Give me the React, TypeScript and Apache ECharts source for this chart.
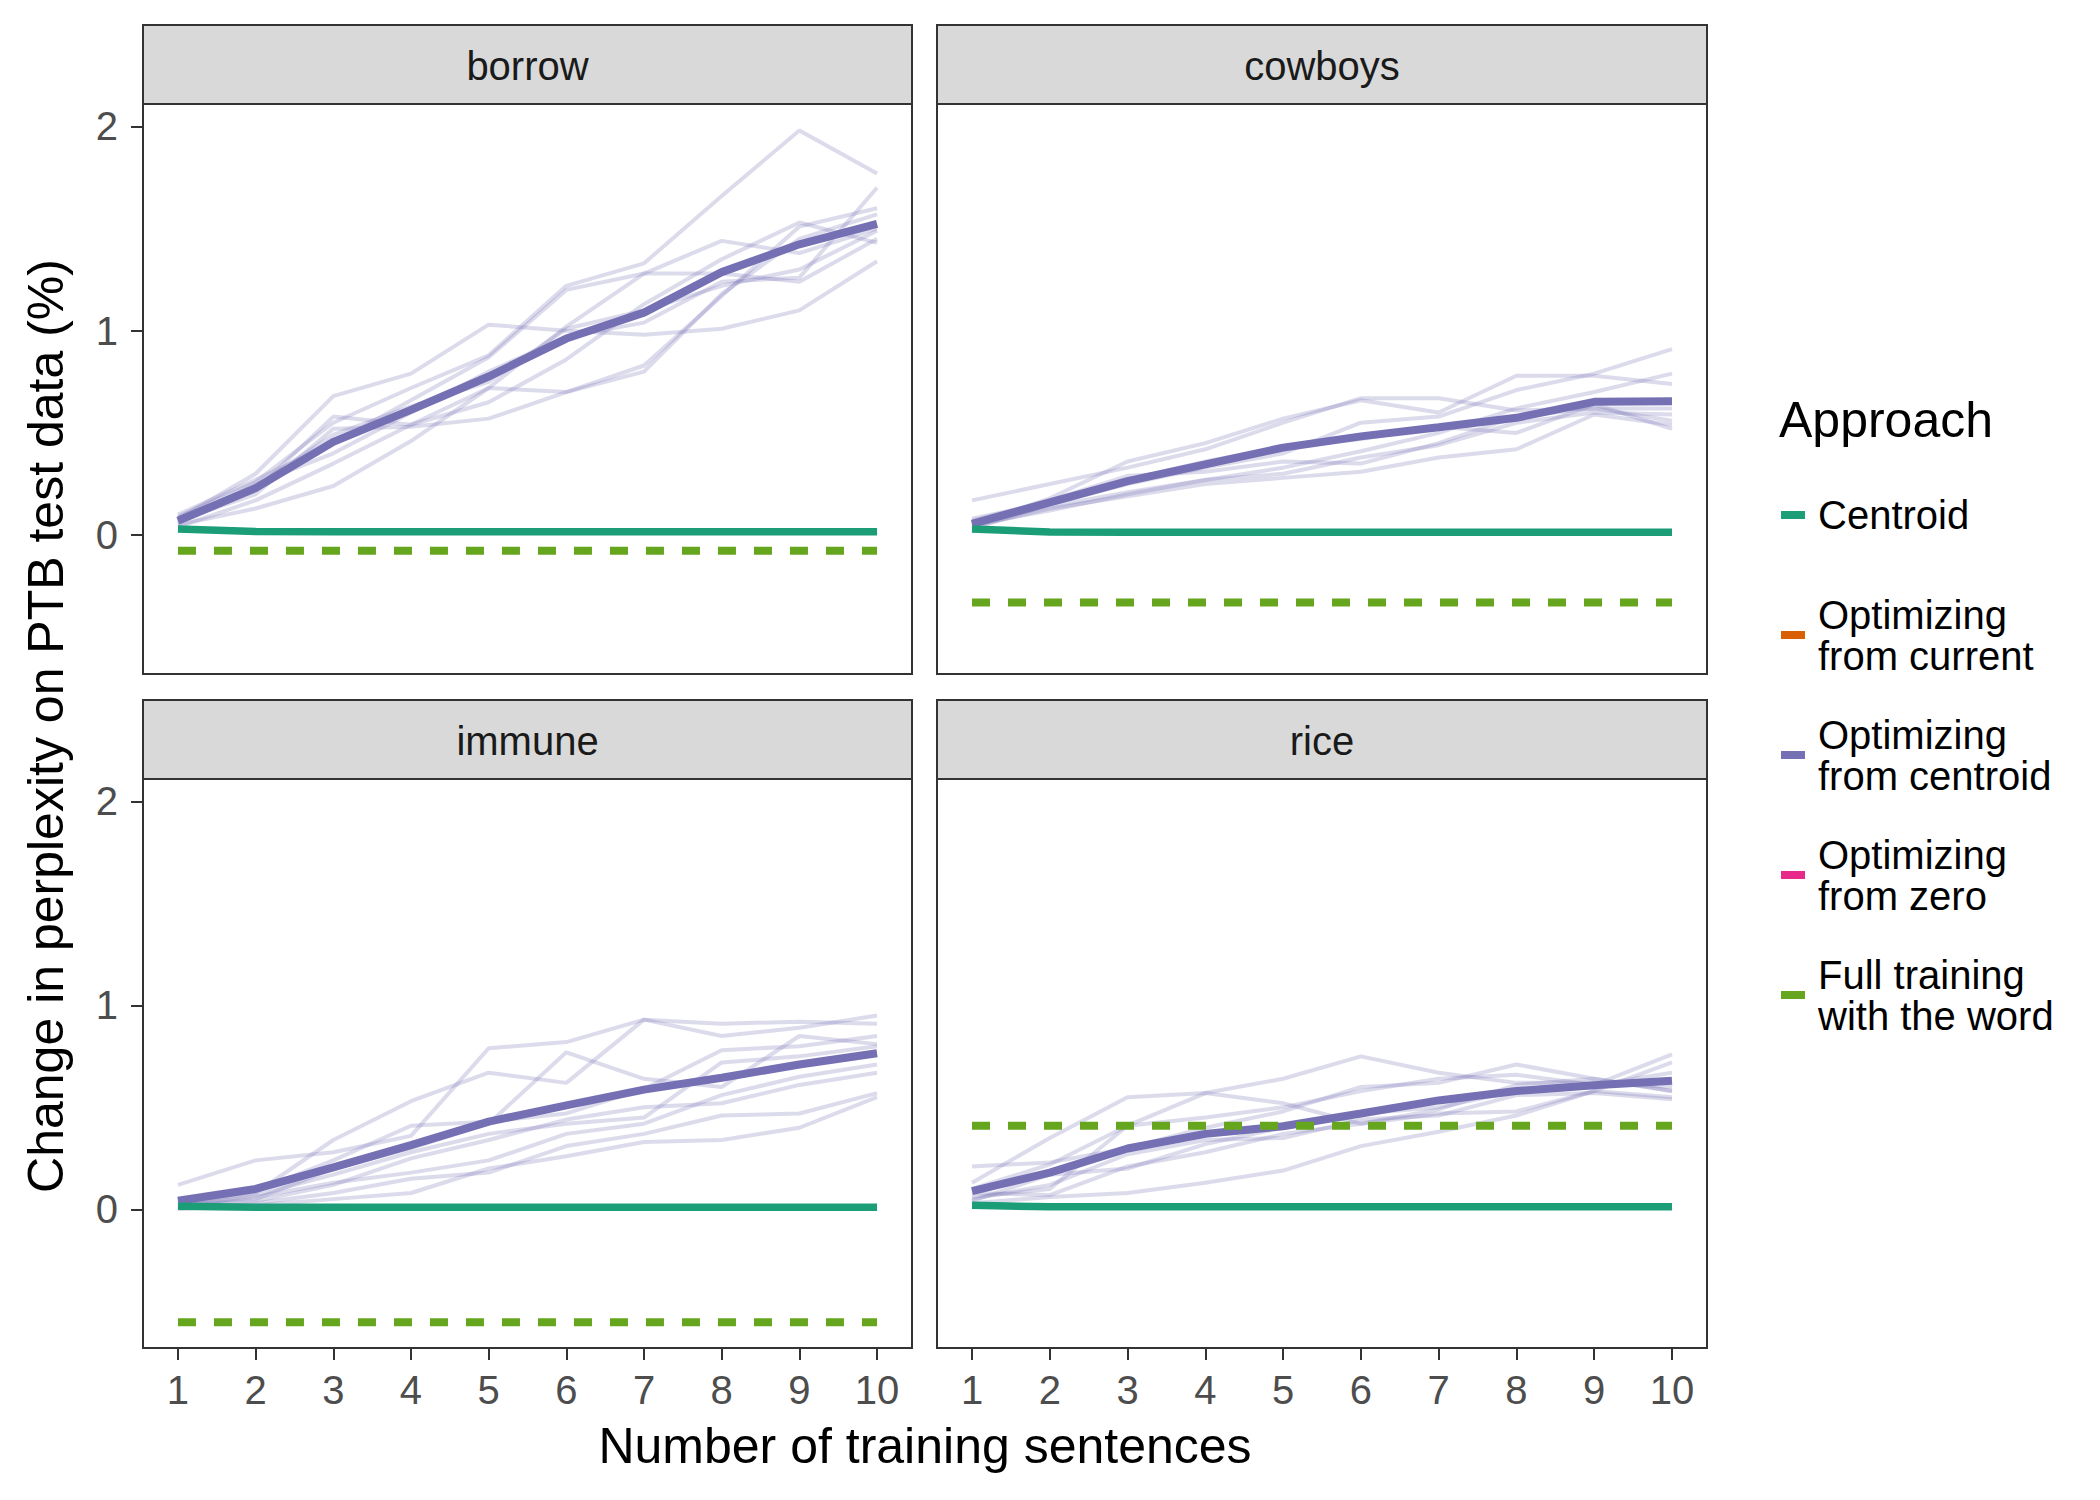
import React, { useEffect, useRef } from 'react';
import * as echarts from 'echarts';

// ---------- data ----------
const SENTENCES = [1, 2, 3, 4, 5, 6, 7, 8, 9, 10];
const X_TICKS = [1, 2, 3, 4, 5, 6, 7, 8, 9, 10];
const Y_TICKS = [0, 1, 2];
const FACETS = ['borrow', 'cowboys', 'immune', 'rice'];

const APPROACHES = [
  'Centroid',
  'Optimizing from current',
  'Optimizing from centroid',
  'Optimizing from zero',
  'Full training with the word',
];
const LEGEND_LINES = [
  'Centroid',
  'Optimizing\nfrom current',
  'Optimizing\nfrom centroid',
  'Optimizing\nfrom zero',
  'Full training\nwith the word',
];
const APPROACH_COLORS = ['#1B9E77', '#D95F02', '#7570B3', '#E7298A', '#66A61E'];

// borrow
const BORROW_MEAN = [0.07, 0.23, 0.456, 0.613, 0.776, 0.962, 1.089, 1.287, 1.423, 1.523];
const BORROW_CENTROID = [0.03, 0.017, 0.016, 0.016, 0.016, 0.016, 0.016, 0.016, 0.016, 0.016];
const BORROW_FULL = [-0.077, -0.077, -0.077, -0.077, -0.077, -0.077, -0.077, -0.077, -0.077, -0.077];
const BORROW_RUNS = [
  [0.09, 0.26, 0.55, 0.72, 0.88, 1.22, 1.33, 1.66, 1.98, 1.77],
  [0.08, 0.3, 0.68, 0.79, 1.03, 1.0, 0.98, 1.01, 1.1, 1.34],
  [0.06, 0.22, 0.58, 0.54, 0.72, 0.7, 0.83, 1.17, 1.51, 1.6],
  [0.05, 0.13, 0.24, 0.46, 0.72, 1.02, 1.28, 1.28, 1.24, 1.45],
  [0.07, 0.2, 0.52, 0.53, 0.57, 0.7, 0.8, 1.18, 1.45, 1.57],
  [0.1, 0.27, 0.45, 0.66, 0.87, 1.2, 1.28, 1.44, 1.38, 1.5],
  [0.04, 0.17, 0.35, 0.54, 0.65, 0.86, 1.13, 1.35, 1.53, 1.43],
  [0.06, 0.25, 0.4, 0.6, 0.8, 0.97, 1.04, 1.24, 1.26, 1.7],
  [0.08, 0.24, 0.49, 0.63, 0.75, 1.01, 1.1, 1.22, 1.3, 1.49],
];

// cowboys
const COWBOYS_MEAN = [0.055, 0.16, 0.264, 0.346, 0.428, 0.483, 0.528, 0.574, 0.652, 0.655];
const COWBOYS_CENTROID = [0.03, 0.015, 0.014, 0.014, 0.014, 0.014, 0.014, 0.014, 0.014, 0.014];
const COWBOYS_FULL = [-0.33, -0.33, -0.33, -0.33, -0.33, -0.33, -0.33, -0.33, -0.33, -0.33];
const COWBOYS_RUNS = [
  [0.17, 0.25, 0.33, 0.42, 0.55, 0.67, 0.67, 0.61, 0.62, 0.56],
  [0.05, 0.18, 0.36, 0.45, 0.57, 0.66, 0.6, 0.78, 0.78, 0.74],
  [0.03, 0.15, 0.25, 0.33, 0.4, 0.55, 0.58, 0.71, 0.79, 0.91],
  [0.06, 0.14, 0.21, 0.27, 0.33, 0.41, 0.5, 0.62, 0.7, 0.79],
  [0.04, 0.13, 0.19, 0.25, 0.28, 0.31, 0.38, 0.42, 0.59, 0.54],
  [0.08, 0.16, 0.27, 0.36, 0.43, 0.47, 0.53, 0.5, 0.64, 0.52],
  [0.05, 0.12, 0.2, 0.27, 0.3, 0.38, 0.44, 0.55, 0.6, 0.59],
  [0.07, 0.17, 0.29, 0.31, 0.36, 0.35, 0.45, 0.58, 0.62, 0.62],
];

// immune
const IMMUNE_MEAN = [0.042, 0.1, 0.206, 0.315, 0.43, 0.51, 0.587, 0.645, 0.71, 0.765];
const IMMUNE_CENTROID = [0.015, 0.01, 0.01, 0.01, 0.01, 0.01, 0.01, 0.01, 0.01, 0.01];
const IMMUNE_FULL = [-0.554, -0.554, -0.554, -0.554, -0.554, -0.554, -0.554, -0.554, -0.554, -0.554];
const IMMUNE_RUNS = [
  [0.12, 0.24, 0.28, 0.36, 0.79, 0.82, 0.93, 0.91, 0.92, 0.91],
  [0.03, 0.08, 0.34, 0.53, 0.67, 0.62, 0.93, 0.85, 0.89, 0.95],
  [0.02, 0.05, 0.2, 0.3, 0.42, 0.77, 0.64, 0.6, 0.85, 0.81],
  [0.03, 0.09, 0.24, 0.41, 0.43, 0.47, 0.59, 0.78, 0.8, 0.85],
  [0.01, 0.07, 0.17, 0.28, 0.37, 0.42, 0.45, 0.72, 0.75, 0.8],
  [0.02, 0.06, 0.13, 0.18, 0.24, 0.37, 0.42, 0.56, 0.65, 0.71],
  [0.0, 0.03, 0.08, 0.15, 0.18, 0.31, 0.37, 0.46, 0.47, 0.57],
  [0.01, 0.02, 0.05, 0.08, 0.2, 0.26, 0.33, 0.34, 0.4, 0.55],
  [0.02, 0.04, 0.12, 0.25, 0.34, 0.44, 0.5, 0.52, 0.61, 0.67],
];

// rice
const RICE_MEAN = [0.089, 0.18, 0.298, 0.37, 0.407, 0.47, 0.534, 0.58, 0.608, 0.63];
const RICE_CENTROID = [0.02, 0.012, 0.012, 0.012, 0.012, 0.012, 0.012, 0.012, 0.012, 0.012];
const RICE_FULL = [0.41, 0.41, 0.41, 0.41, 0.41, 0.41, 0.41, 0.41, 0.41, 0.41];
const RICE_RUNS = [
  [0.13, 0.35, 0.55, 0.57, 0.52, 0.42, 0.49, 0.61, 0.64, 0.58],
  [0.1, 0.22, 0.41, 0.57, 0.64, 0.75, 0.67, 0.62, 0.62, 0.6],
  [0.21, 0.23, 0.3, 0.4, 0.48, 0.6, 0.62, 0.71, 0.64, 0.58],
  [0.06, 0.1, 0.41, 0.45, 0.5, 0.58, 0.64, 0.66, 0.61, 0.67],
  [0.04, 0.17, 0.2, 0.32, 0.4, 0.47, 0.5, 0.58, 0.61, 0.76],
  [0.08, 0.07, 0.21, 0.28, 0.37, 0.42, 0.47, 0.48, 0.58, 0.72],
  [0.03, 0.06, 0.08, 0.13, 0.19, 0.31, 0.38, 0.46, 0.58, 0.55],
  [0.05, 0.12, 0.27, 0.34, 0.35, 0.44, 0.46, 0.56, 0.57, 0.54],
];

const MEANS = [BORROW_MEAN, COWBOYS_MEAN, IMMUNE_MEAN, RICE_MEAN];
const CENTROIDS = [BORROW_CENTROID, COWBOYS_CENTROID, IMMUNE_CENTROID, RICE_CENTROID];
const FULLS = [BORROW_FULL, COWBOYS_FULL, IMMUNE_FULL, RICE_FULL];
const RUNS = [BORROW_RUNS, COWBOYS_RUNS, IMMUNE_RUNS, RICE_RUNS];

// ---------- layout ----------
const FONT = 'Liberation Sans';
const GRIDS = [
  { left: 143, top: 104, width: 769, height: 570 },
  { left: 937, top: 104, width: 770, height: 570 },
  { left: 143, top: 779, width: 769, height: 569 },
  { left: 937, top: 779, width: 770, height: 569 },
];
const STRIP_H = 79;

const pairs = (ys: number[]) => SENTENCES.map((x, i) => [x, ys[i]]);

function buildOption() {
  const grid = GRIDS.map((g) => ({
    left: g.left,
    top: g.top,
    width: g.width,
    height: g.height,
    show: true,
    borderColor: '#333333',
    borderWidth: 2,
    backgroundColor: 'transparent',
    containLabel: false,
  }));

  const xAxis = GRIDS.map((_, i) => {
    const bottom = i >= 2;
    return {
      type: 'value',
      gridIndex: i,
      min: 0.55,
      max: 10.45,
      splitLine: { show: false },
      axisLine: { show: bottom, onZero: false, lineStyle: { color: '#333333', width: 2 } },
      axisTick: {
        show: bottom,
        customValues: X_TICKS,
        length: 12,
        lineStyle: { color: '#333333', width: 2 },
      },
      axisLabel: {
        show: bottom,
        customValues: X_TICKS,
        fontSize: 40,
        color: '#4D4D4D',
        fontFamily: FONT,
        margin: 22,
      },
    };
  });

  const yAxis = GRIDS.map((_, i) => {
    const leftSide = i % 2 === 0;
    return {
      type: 'value',
      gridIndex: i,
      min: -0.68,
      max: 2.11,
      splitLine: { show: false },
      axisLine: { show: leftSide, onZero: false, lineStyle: { color: '#333333', width: 2 } },
      axisTick: {
        show: leftSide,
        customValues: Y_TICKS,
        length: 12,
        lineStyle: { color: '#333333', width: 2 },
      },
      axisLabel: {
        show: leftSide,
        customValues: Y_TICKS,
        fontSize: 40,
        color: '#4D4D4D',
        fontFamily: FONT,
        margin: 25,
      },
    };
  });

  const series: any[] = [];
  FACETS.forEach((facet, i) => {
    RUNS[i].forEach((run, r) => {
      series.push({
        type: 'line',
        name: facet + ' run ' + (r + 1),
        xAxisIndex: i,
        yAxisIndex: i,
        data: pairs(run),
        showSymbol: false,
        symbol: 'none',
        silent: true,
        lineStyle: { color: '#7570B3', width: 4, opacity: 0.25 },
        itemStyle: { color: '#7570B3' },
        z: 1,
      });
    });
    series.push({
      type: 'line',
      name: APPROACHES[2],
      xAxisIndex: i,
      yAxisIndex: i,
      data: pairs(MEANS[i]),
      showSymbol: false,
      symbol: 'none',
      lineStyle: { color: APPROACH_COLORS[2], width: 8 },
      itemStyle: { color: APPROACH_COLORS[2] },
      z: 2,
    });
    series.push({
      type: 'line',
      name: APPROACHES[0],
      xAxisIndex: i,
      yAxisIndex: i,
      data: pairs(CENTROIDS[i]),
      showSymbol: false,
      symbol: 'none',
      lineStyle: { color: APPROACH_COLORS[0], width: 7.5 },
      itemStyle: { color: APPROACH_COLORS[0] },
      z: 3,
    });
    series.push({
      type: 'line',
      name: APPROACHES[4],
      xAxisIndex: i,
      yAxisIndex: i,
      data: pairs(FULLS[i]),
      showSymbol: false,
      symbol: 'none',
      lineStyle: { color: APPROACH_COLORS[4], width: 8, type: [18, 18], cap: 'butt' },
      itemStyle: { color: APPROACH_COLORS[4] },
      z: 3,
    });
  });
  // approaches with no visible lines in these facets (legend only)
  [1, 3].forEach((k) => {
    series.push({
      type: 'line',
      name: APPROACHES[k],
      xAxisIndex: 0,
      yAxisIndex: 0,
      data: [],
      showSymbol: false,
      lineStyle: { color: APPROACH_COLORS[k], width: 7.5 },
      itemStyle: { color: APPROACH_COLORS[k] },
    });
  });

  const graphic: any[] = [];
  GRIDS.forEach((g, i) => {
    graphic.push({
      type: 'rect',
      shape: { x: g.left, y: g.top - STRIP_H, width: g.width, height: STRIP_H },
      style: { fill: '#D9D9D9', stroke: '#333333', lineWidth: 2 },
      z: 0,
    });
    graphic.push({
      type: 'text',
      x: g.left + g.width / 2,
      y: g.top - STRIP_H / 2 + 1,
      style: {
        text: FACETS[i],
        fontSize: 40,
        fontFamily: FONT,
        fill: '#1A1A1A',
        align: 'center',
        verticalAlign: 'middle',
      },
    });
  });
  graphic.push({
    type: 'text',
    x: 925,
    y: 1446,
    style: {
      text: 'Number of training sentences',
      fontSize: 50,
      fontFamily: FONT,
      fill: '#000000',
      align: 'center',
      verticalAlign: 'middle',
    },
  });
  graphic.push({
    type: 'text',
    x: 46,
    y: 726,
    rotation: Math.PI / 2,
    style: {
      text: 'Change in perplexity on PTB test data (%)',
      fontSize: 50,
      fontFamily: FONT,
      fill: '#000000',
      align: 'center',
      verticalAlign: 'middle',
    },
  });
  graphic.push({
    type: 'text',
    x: 1779,
    y: 420,
    style: {
      text: 'Approach',
      fontSize: 50,
      fontFamily: FONT,
      fill: '#000000',
      align: 'left',
      verticalAlign: 'middle',
    },
  });

  return {
    animation: false,
    backgroundColor: '#FFFFFF',
    textStyle: { fontFamily: FONT },
    grid,
    xAxis,
    yAxis,
    series,
    graphic,
    legend: {
      orient: 'vertical',
      left: 1781,
      top: 474,
      padding: 0,
      itemGap: 38,
      itemWidth: 24,
      itemHeight: 8,
      icon: 'rect',
      selectedMode: false,
      data: APPROACHES.map((name, k) => ({
        name,
        icon: 'rect',
        itemStyle: { color: APPROACH_COLORS[k] },
        textStyle: { lineHeight: k === 0 ? 82 : 41, padding: [0, 0, 0, 8] },
      })),
      formatter: (name: string) => LEGEND_LINES[APPROACHES.indexOf(name)],
      textStyle: {
        fontSize: 40,
        fontFamily: FONT,
        color: '#000000',
        lineHeight: 41,
        padding: [0, 0, 0, 8],
      },
    },
  };
}

export default function App() {
  const ref = useRef<HTMLDivElement>(null);
  useEffect(() => {
    document.body.style.margin = '0';
    if (!ref.current) return;
    const chart = echarts.init(ref.current, undefined, { renderer: 'svg' });
    chart.setOption(buildOption() as any);
    return () => chart.dispose();
  }, []);
  return <div ref={ref} style={{ width: 2100, height: 1500 }} />;
}
